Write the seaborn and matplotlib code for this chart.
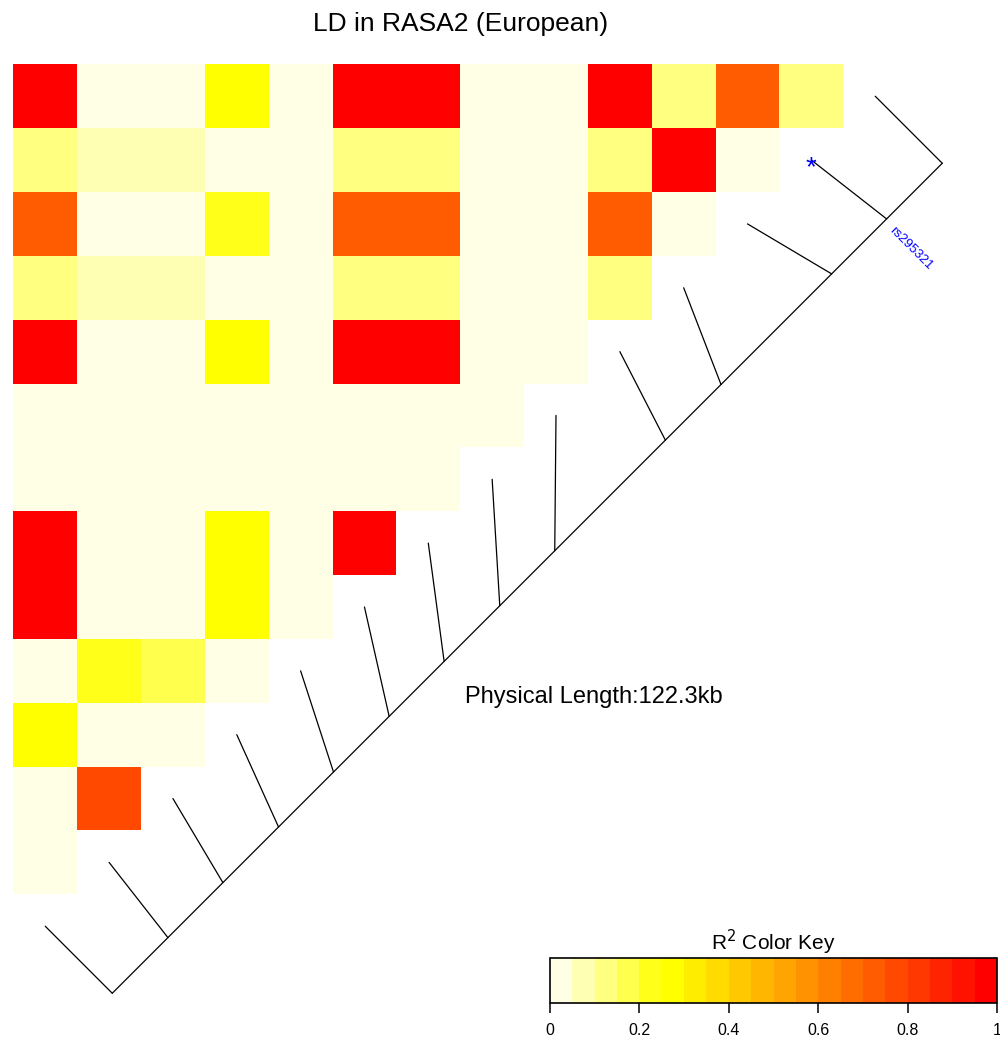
import colorsys
import numpy as np
import pandas as pd
import matplotlib
matplotlib.use("Agg")
import matplotlib.pyplot as plt
from matplotlib.colors import ListedColormap
import seaborn as sns

# ---------------- data ----------------
title = "LD in RASA2 (European)"
length_label = "Physical Length:122.3kb"
snp_pos_kb = [0.0, 8.2, 16.3, 24.5, 32.6, 40.8, 48.9, 57.1, 65.2, 81.5, 89.7, 106.0, 114.1, 122.3]
highlight_name = "rs295321"
highlight_idx = 12

r2_row0 = [0.98, 0.02, 0.02, 0.27, 0.02, 0.98, 0.98, 0.02, 0.02, 0.98, 0.12, 0.72, 0.12]
r2_row1 = [0.12, 0.07, 0.07, 0.02, 0.02, 0.12, 0.12, 0.02, 0.02, 0.12, 0.98, 0.02]
r2_row2 = [0.72, 0.02, 0.02, 0.22, 0.02, 0.72, 0.72, 0.02, 0.02, 0.72, 0.02]
r2_row3 = [0.12, 0.07, 0.07, 0.02, 0.02, 0.12, 0.12, 0.02, 0.02, 0.12]
r2_row4 = [0.98, 0.02, 0.02, 0.27, 0.02, 0.98, 0.98, 0.02, 0.02]
r2_row5 = [0.02, 0.02, 0.02, 0.02, 0.02, 0.02, 0.02, 0.02]
r2_row6 = [0.02, 0.02, 0.02, 0.02, 0.02, 0.02, 0.02]
r2_row7 = [0.98, 0.02, 0.02, 0.27, 0.02, 0.98]
r2_row8 = [0.98, 0.02, 0.02, 0.27, 0.02]
r2_row9 = [0.02, 0.22, 0.17, 0.02]
r2_row10 = [0.27, 0.02, 0.02]
r2_row11 = [0.02, 0.77]
r2_row12 = [0.02]

key_ticks = [0, 0.2, 0.4, 0.6, 0.8, 1]
key_labels = ["0", "0.2", "0.4", "0.6", "0.8", "1"]

# ---------------- style ----------------
sns.set_theme(style="white")
plt.rcParams['font.family'] = ['Liberation Sans', 'DejaVu Sans']
plt.rcParams['text.color'] = 'black'

rows = [r2_row0, r2_row1, r2_row2, r2_row3, r2_row4, r2_row5, r2_row6,
        r2_row7, r2_row8, r2_row9, r2_row10, r2_row11, r2_row12]
n = len(rows)
mat = np.full((n, n), np.nan)
for r, row in enumerate(rows):
    mat[r, :len(row)] = row
df = pd.DataFrame(mat)

# R heat.colors(20), reversed
def heat_colors(k):
    j = k // 4
    i = k - j
    cols = []
    for t in range(i):
        h = (1 / 6) * t / (i - 1)
        cols.append(colorsys.hsv_to_rgb(h, 1, 1))
    for t in range(j):
        s = (1 - 1 / (2 * j)) - t * ((1 - 1 / (2 * j)) - 1 / (2 * j)) / (j - 1)
        cols.append(colorsys.hsv_to_rgb(1 / 6, s, 1))
    return cols

cmap = ListedColormap(heat_colors(20)[::-1])

W, H = 1000, 1039
fig = plt.figure(figsize=(W / 100, H / 100), dpi=100)

def fax(x0, y0, x1, y1):
    return fig.add_axes([x0 / W, 1 - y1 / H, (x1 - x0) / W, (y1 - y0) / H])

ax = fax(13.3, 64.3, 843.3, 894.3)
cax = fax(550, 958, 997, 1003)

sns.heatmap(df, ax=ax, cmap=cmap, vmin=0, vmax=1, mask=df.isna(),
            cbar=True, cbar_ax=cax,
            cbar_kws={'orientation': 'horizontal', 'ticks': key_ticks},
            xticklabels=False, yticklabels=False, linewidths=0)
ax.set_xlabel("")
ax.set_ylabel("")

# ---------------- genetic map ----------------
pos = np.array(snp_pos_kb)
f = (pos - pos[0]) / (pos[-1] - pos[0])
off = 1.55
lx = off + (n) * f
ly = (n + off) - (n) * f
ux = np.arange(n + 1) + 0.5
uy = (n + 0.5) - np.arange(n + 1)
ax.plot([lx[0], lx[-1]], [ly[0], ly[-1]], color='black', lw=0.9, clip_on=False)
for k in range(n + 1):
    ax.plot([lx[k], ux[k]], [ly[k], uy[k]], color='black', lw=0.9, clip_on=False)

ax.text(ux[highlight_idx], uy[highlight_idx] + 0.12, "*", color='blue', fontsize=20,
        ha='center', va='center', clip_on=False)
ax.annotate(highlight_name, xy=(lx[highlight_idx], ly[highlight_idx]),
            xytext=(3, -7), textcoords='offset points', rotation=-45,
            rotation_mode='anchor', ha='left', va='center', color='blue',
            fontsize=9.5, annotation_clip=False)

# ---------------- texts ----------------
fig.text(461 / W, 1 - 31.5 / H, title, fontsize=19, ha='center', va='baseline', color='black')
fig.text(594 / W, 1 - 703 / H, length_label, fontsize=17, ha='center', va='baseline', color='black')
fig.text(773 / W, 1 - 950 / H, "R$^2$ Color Key", fontsize=15, ha='center', va='baseline', color='black')

# ---------------- colour key ----------------
cb = ax.collections[0].colorbar
cb.set_ticks(key_ticks)
cb.set_ticklabels(key_labels)
cax.tick_params(axis='x', bottom=True, direction='out', length=7.5, width=1.1,
                pad=7, labelsize=11.5, colors='black')
cb.outline.set_visible(True)
cb.outline.set_edgecolor('black')
cb.outline.set_linewidth(1.2)

fig.savefig("out.png", dpi=100, facecolor='white')
